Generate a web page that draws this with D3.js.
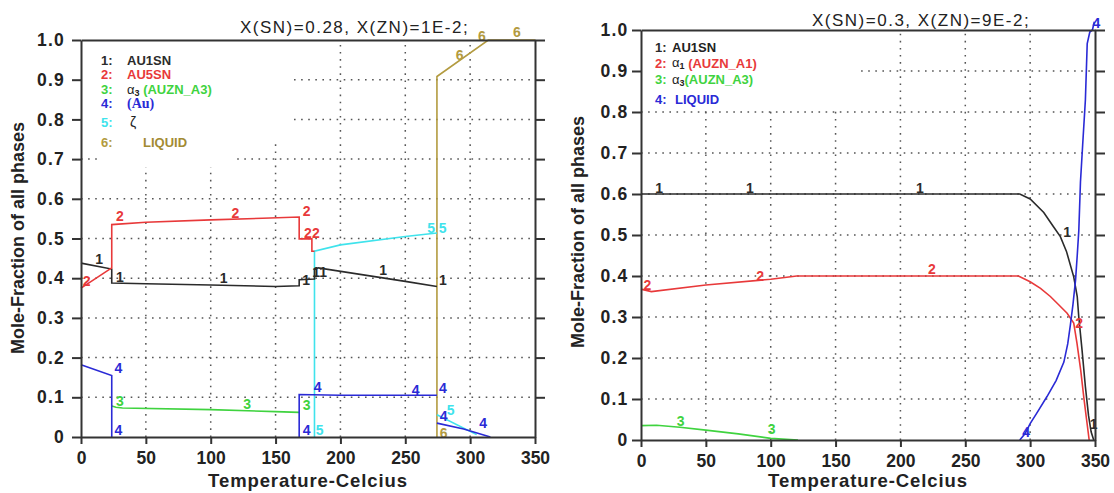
<!DOCTYPE html>
<html>
<head>
<meta charset="utf-8">
<script src="https://cdn.jsdelivr.net/npm/d3@7"></script>
<style>
  body { margin: 0; background: #fff; }
  svg { display: block; font-family: "Liberation Sans", Arial, sans-serif; }
</style>
</head>
<body>
<div id="chart"></div>
<script>
// values: [temperature (C), mole fraction], null = gap in the curve
const xTicks = [0, 50, 100, 150, 200, 250, 300, 350];
const yTicks = [0, 0.1, 0.2, 0.3, 0.4, 0.5, 0.6, 0.7, 0.8, 0.9, 1.0];
const xGrid = [50, 100, 150, 200, 250, 300];
const yGrid = [0.1, 0.2, 0.3, 0.4, 0.5, 0.6, 0.7, 0.8, 0.9];

// left: X(SN)=0.28, X(ZN)=1E-2
const left1 = [[0,0.438],[23.7,0.423],[23.7,0.388],[50,0.386],[100,0.383],[150,0.379],[168.2,0.381],[168.2,0.396],[180,0.398],[180,0.421],[183,0.426],[250,0.392],[274.4,0.379]];
const left2 = [[0,0.375],[23.7,0.426],[23.7,0.535],[50,0.541],[100,0.547],[140,0.551],[168.2,0.554],[168.2,0.499],[178,0.499],[178,0.468],[180,0.468]];
const left3 = [[23.7,0.078],[27,0.075],[32,0.073],[100,0.069],[150,0.064],[168.2,0.062]];
const left4 = [[0,0.182],[23.7,0.155],[23.7,0],null,[168.2,0],[168.2,0.107],[200,0.105],[274.4,0.105],null,[274.4,0.035],[295,0.02],[315.6,0]];
const left5 = [[180,0],[180,0.468],[200,0.484],[250,0.505],[274.4,0.514],null,[274.4,0.056],[305,0.006]];
const left6 = [[274.4,0],[274.4,0.908],[314,1.0],[350,1.0]];

// label spots [T, value, text?]; text defaults to the series number
const left1Labels = [[14,0.448],[30,0.402],[110,0.40],[173.6,0.394],[184,0.415,"11"],[233,0.42],[279,0.396]];
const left2Labels = [[4.4,0.392],[30,0.556],[119,0.564],[174,0.568],[178,0.514,"22"]];
const left3Labels = [[30,0.09],[128,0.084],[174,0.081]];
const left4Labels = [[28.8,0.174],[28.8,0.017],[174,0.018],[182.5,0.125],[258,0.119],[279,0.123],[279.6,0.053],[310,0.035]];
const left5Labels = [[184,0.018],[274.4,0.525,"5 5"],[285,0.069]];
const left6Labels = [[279.6,0.01],[292,0.963],[309,1.01],[336,1.02]];

// right: X(SN)=0.3, X(ZN)=9E-2
const right1 = [[0,0.6],[292,0.6],[300,0.588],[310.5,0.555],[318,0.52],[323.3,0.496],[328,0.46],[333.6,0.398],[336.3,0.35],[337.5,0.30],[340,0.22],[342.6,0.13],[345,0.06],[347,0.02],[349,0]];
const right2 = [[0,0.368],[8,0.362],[50,0.378],[100,0.392],[120,0.40],[291,0.40],[300,0.386],[308,0.37],[315.6,0.35],[322,0.33],[328.5,0.309],[333.6,0.285],[336.1,0.236],[339,0.17],[341.3,0.106],[343.5,0.05],[345.5,0]];
const right3 = [[0,0.035],[12,0.036],[30,0.031],[50,0.024],[75,0.015],[100,0.004],[121,0]];
const right4 = [[292,0],[296,0.015],[300,0.04],[305,0.065],[313,0.106],[320,0.145],[326,0.19],[329,0.235],[331,0.28],[333,0.33],[335,0.39],[336.3,0.45],[337.5,0.51],[338.8,0.63],[340.5,0.72],[342.6,0.83],[344,0.967],[346,0.995],[348,1.0],[349.5,1.02]];

const right1Labels = [[13.9,0.614],[84,0.614],[215,0.614],[328.5,0.508],[349,0.04]];
const right2Labels = [[4.9,0.378],[91.8,0.40],[224.3,0.416],[337.8,0.286]];
const right3Labels = [[30.6,0.047],[100.8,0.026]];
const right4Labels = [[297,0.02],[351,1.016]];

const colors = {1: "#2b2b2b", 2: "#e8393a", 3: "#3fd33f", 4: "#2a2ad6", 5: "#3fe3ec", 6: "#b39b40"};

const svg = d3.select("#chart").append("svg")
  .attr("width", 1114)
  .attr("height", 493);

function drawPanel(p) {
  const g = svg.append("g");
  const x = d3.scaleLinear().domain([0, 350]).range([p.left, p.right]);
  const y = d3.scaleLinear().domain([0, 1]).range([p.bottom, p.top]);

  // dotted grid
  const grid = g.append("g")
    .attr("stroke", "#555")
    .attr("stroke-width", 1.5)
    .attr("stroke-dasharray", "1.6,5.5");
  grid.selectAll(".gx").data(xGrid).join("line")
    .attr("x1", d => x(d)).attr("x2", d => x(d))
    .attr("y1", y(0)).attr("y2", y(1));
  grid.selectAll(".gy").data(yGrid).join("line")
    .attr("y1", d => y(d)).attr("y2", d => y(d))
    .attr("x1", x(0)).attr("x2", x(350));

  // legend background hides the grid under it
  p.masks.forEach(m => {
    g.append("rect")
      .attr("x", x(m[0])).attr("width", x(m[1]) - x(m[0]))
      .attr("y", y(m[3])).attr("height", y(m[2]) - y(m[3]))
      .attr("fill", "#fff");
  });

  const line = d3.line()
    .defined(d => d)
    .x(d => x(d[0]))
    .y(d => y(d[1]));

  p.series.forEach(s => {
    g.append("path")
      .attr("fill", "none")
      .attr("stroke", colors[s.id])
      .attr("stroke-width", 1.6)
      .attr("d", line(s.values));
    g.append("g").selectAll("text").data(s.labels).join("text")
      .attr("x", d => x(d[0]))
      .attr("y", d => y(d[1]))
      .attr("dy", "0.35em")
      .attr("text-anchor", "middle")
      .attr("font-size", 14)
      .attr("font-weight", "bold")
      .attr("fill", colors[s.id])
      .text(d => d[2] || s.id);
  });

  // frame and ticks
  const ax = g.append("g");
  const left = ax.append("g")
    .attr("transform", `translate(${p.left},0)`)
    .call(d3.axisLeft(y).tickValues(yTicks).tickSize(9).tickSizeOuter(0).tickPadding(p.yPad)
      .tickFormat(d => d === 0 ? "0" : d3.format(".1f")(d)));
  ax.append("g")
    .attr("transform", `translate(${p.right},0)`)
    .call(d3.axisRight(y).tickValues(yTicks.slice(1)).tickSize(10).tickSizeOuter(0).tickFormat(""));
  ax.append("g")
    .attr("transform", `translate(0,${p.bottom})`)
    .call(d3.axisBottom(x).tickValues(xTicks).tickSize(7).tickSizeOuter(0).tickPadding(8));
  ax.append("g")
    .attr("transform", `translate(0,${p.top})`)
    .call(d3.axisTop(x).tickValues([]).tickSizeOuter(0));

  ax.selectAll("path, line").attr("stroke", "#333").attr("stroke-width", 2);
  ax.selectAll("text")
    .attr("font-size", 17.5)
    .attr("font-weight", "bold")
    .attr("fill", "#222")
    .attr("font-family", "Liberation Sans, Arial, sans-serif");
  left.selectAll("text").attr("letter-spacing", 1.2);

  g.append("text")
    .attr("x", (p.left + p.right) / 2)
    .attr("y", 487)
    .attr("text-anchor", "middle")
    .attr("font-size", 18.5)
    .attr("font-weight", "bold")
    .attr("letter-spacing", 0.9)
    .attr("fill", "#222")
    .text("Temperature-Celcius");

  g.append("text")
    .attr("transform", `translate(${p.yLabelX},${p.yLabelY}) rotate(-90)`)
    .attr("text-anchor", "middle")
    .attr("dy", "0.35em")
    .attr("font-size", 18)
    .attr("font-weight", "bold")
    .attr("fill", "#222")
    .text("Mole-Fraction of all phases");

  g.append("text")
    .attr("x", p.titleX)
    .attr("y", p.titleY)
    .attr("font-size", 17)
    .attr("letter-spacing", 1.5)
    .attr("fill", "#222")
    .text(p.title);

  // legend
  p.legend.forEach(row => {
    g.append("text")
      .attr("x", p.legendX)
      .attr("y", row.y)
      .attr("font-size", 13)
      .attr("font-weight", "bold")
      .attr("fill", colors[row.id])
      .text(row.id + ":");
    const t = g.append("text")
      .attr("x", p.legendX + p.nameDx + (row.dx || 0))
      .attr("y", row.y)
      .attr("font-size", 13)
      .attr("font-weight", "bold");
    row.parts.forEach(part => {
      const ts = t.append("tspan")
        .attr("fill", part.c || colors[row.id])
        .text(part.t);
      if (part.font) ts.attr("font-family", part.font);
      if (part.normal) ts.attr("font-weight", "normal");
      if (part.size) ts.attr("font-size", part.size);
      if (part.dy) ts.attr("dy", part.dy);
    });
  });
}

drawPanel({
  left: 81, right: 535, top: 40, bottom: 437,
  yPad: 7,
  yLabelX: 18, yLabelY: 238,
  title: "X(SN)=0.28, X(ZN)=1E-2;", titleX: 240, titleY: 33,
  masks: [[0.5, 161, 0.74, 0.997], [15, 118, 0.68, 0.74]],
  series: [
    {id: 6, values: left6, labels: left6Labels},
    {id: 5, values: left5, labels: left5Labels},
    {id: 1, values: left1, labels: left1Labels},
    {id: 2, values: left2, labels: left2Labels},
    {id: 3, values: left3, labels: left3Labels},
    {id: 4, values: left4, labels: left4Labels}
  ],
  legendX: 101, nameDx: 26,
  legend: [
    {id: 1, y: 65, parts: [{t: "AU1SN"}]},
    {id: 2, y: 79, parts: [{t: "AU5SN"}]},
    {id: 3, y: 94, parts: [{t: "α", c: "#222", normal: true, size: 13},
                           {t: "3", c: "#222", size: 9, dy: 2},
                           {t: " (AUZN_A3)", dy: -2}]},
    {id: 4, y: 108, parts: [{t: "(Au)", font: "Liberation Serif, serif", size: 14}]},
    {id: 5, y: 127, dx: 3, parts: [{t: "ζ", c: "#222", normal: true, size: 14}]},
    {id: 6, y: 147, dx: 16, parts: [{t: "LIQUID", c: "#a38b33"}]}
  ]
});

drawPanel({
  left: 641, right: 1095, top: 30, bottom: 440,
  yPad: 3.5,
  yLabelX: 578, yLabelY: 232,
  title: "X(SN)=0.3, X(ZN)=9E-2;", titleX: 812, titleY: 26,
  masks: [[0.5, 167, 0.81, 0.997]],
  series: [
    {id: 1, values: right1, labels: right1Labels},
    {id: 2, values: right2, labels: right2Labels},
    {id: 3, values: right3, labels: right3Labels},
    {id: 4, values: right4, labels: right4Labels}
  ],
  legendX: 655, nameDx: 17,
  legend: [
    {id: 1, y: 52, parts: [{t: "AU1SN", c: "#222"}]},
    {id: 2, y: 68, parts: [{t: "α", c: "#222", normal: true, size: 13, dy: -1},
                           {t: "1", c: "#222", size: 9, dy: 2},
                           {t: " (AUZN_A1)", dy: -1}]},
    {id: 3, y: 84, parts: [{t: "α", c: "#222", normal: true, size: 13},
                           {t: "3", c: "#222", size: 9, dy: 2},
                           {t: "(AUZN_A3)", dy: -2}]},
    {id: 4, y: 104, dx: 3, parts: [{t: "LIQUID"}]}
  ]
});
</script>
</body>
</html>
